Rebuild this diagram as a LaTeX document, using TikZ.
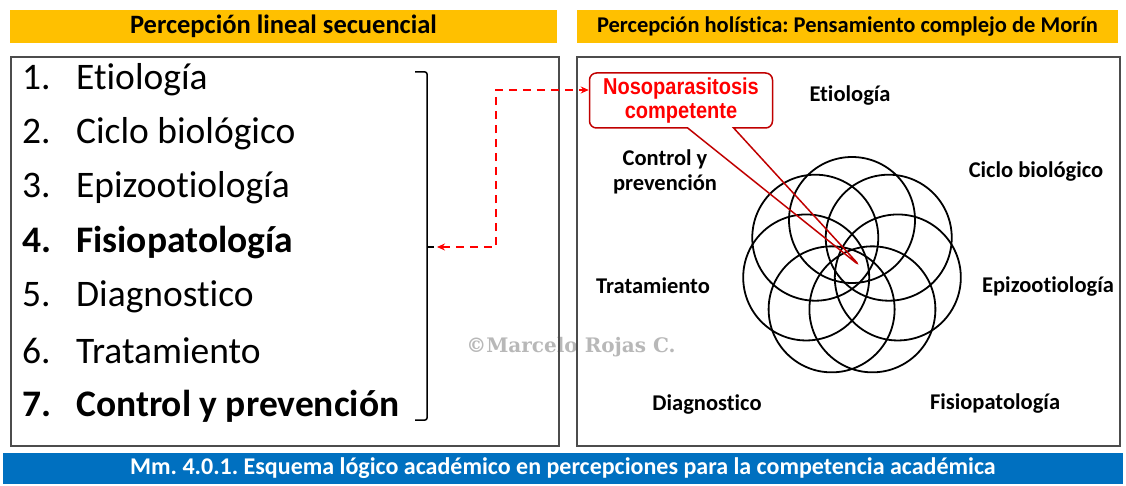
\documentclass[tikz,border=0pt]{standalone}
\usepackage{fontspec}
\setmainfont{Carlito}[Ligatures=NoCommon]
\newfontfamily\narrowfont[FakeStretch=0.87]{Liberation Sans}
\newfontfamily\markfont{DejaVu Serif}
\usepackage{xcolor}
\usepackage{tikz}
\usetikzlibrary{shapes.callouts, arrows.meta, positioning, calc}
\frenchspacing

\definecolor{headyellow}{HTML}{FFC000}
\definecolor{barblue}{HTML}{0070C0}
\definecolor{bubblered}{HTML}{C00000}

\begin{document}
\begin{tikzpicture}[
    x=1pt, y=-1pt,
    header/.style={fill=headyellow, minimum height=33pt, inner sep=0pt},
    frame/.style={draw=black!70, line width=1.3pt, inner sep=0pt},
    item/.style={anchor=west, inner sep=0pt, font=\fontsize{37.5}{40}\selectfont},
    factor/.style={align=center, inner sep=0pt, font=\bfseries\fontsize{22.5}{25}\selectfont},
    petal/.style={line width=1.8pt},
    bubble/.style={rectangle callout, draw=bubblered, line width=1.5pt, rounded corners=7pt, minimum width=183pt, minimum height=55pt, align=center, text=red, font=\narrowfont\bfseries\fontsize{23}{24}\selectfont},
    link/.style={red, line width=1.5pt, dash pattern=on 8pt off 6pt, {Stealth[length=8pt,width=7pt]}-{Stealth[length=8pt,width=7pt]}}
]
\useasboundingbox (0,0) rectangle (1126,486);

% Watermark
\node[font=\markfont\bfseries\fontsize{20}{22}\selectfont, text=black!28] (mark) at (571,347) {©Marcelo Rojas C.};

% Headers and frames
\node[header, minimum width=547pt, font=\bfseries\fontsize{26.5}{28}\selectfont] (lhead) at (283.5,26.5) {Percepción lineal secuencial};
\node[header, minimum width=541pt, font=\bfseries\fontsize{22.5}{24}\selectfont] (rhead) at (847.5,26.5) {Percepción holística: Pensamiento complejo de Morín};
\node[frame, minimum width=548pt, minimum height=389pt] (lbox) at (285,251.5) {};
\node[frame, minimum width=543pt, minimum height=389pt] (rbox) at (848.5,251.5) {};
\node[fill=barblue, minimum width=1120pt, minimum height=31pt, inner sep=0pt, text=white, font=\bfseries\fontsize{24}{26}\selectfont] (caption) at (563,468.5) {Mm. 4.0.1. Esquema lógico académico en percepciones para la competencia académica};

% Sequential list
\node[item] (e1) at (22,80) {\makebox[54pt][l]{1.}Etiología};
\node[item] (e2) at (22,134) {\makebox[54pt][l]{2.}Ciclo biológico};
\node[item] (e3) at (22,188) {\makebox[54pt][l]{3.}Epizootiología};
\node[item, font=\bfseries\fontsize{37.5}{40}\selectfont] (e4) at (22,243) {\makebox[54pt][l]{4.}Fisiopatología};
\node[item] (e5) at (22,297) {\makebox[54pt][l]{5.}Diagnostico};
\node[item] (e6) at (22,351) {\makebox[54pt][l]{6.}Tratamiento};
\node[item, font=\bfseries\fontsize{37.5}{40}\selectfont] (e7) at (22,406) {\makebox[54pt][l]{7.}Control y prevención};

% Bracket
\draw[line width=1.5pt, rounded corners=2pt] (415,72) -- (427,72) -- (427,420) -- (415,420);
\draw[line width=1.5pt] (427,247) -- (434,247);
\coordinate (brk) at (437,247);

% Holistic factors
\node[factor] (etio) at (850,96) {Etiología};
\node[factor] (ciclo) at (1036,172) {Ciclo biológico};
\node[factor] (epiz) at (1048,287) {Epizootiología};
\node[factor] (fisio) at (995,404) {Fisiopatología};
\node[factor] (diag) at (707,405) {Diagnostico};
\node[factor] (trat) at (653,286) {Tratamiento};
\node[factor] (ctrl) at (665,172) {Control y\\prevención};

% Flower of circles
\coordinate (flower) at (852,267);
\foreach \k in {0,...,6}
    \draw[petal] (flower) ++(-90+\k*360/7:47) circle (63pt);

% Callout
\coordinate (tip) at (860,266);
\node[bubble, callout absolute pointer={(tip)}, callout pointer width=46pt] (noso) at (681,100.5) {Nosoparasitosis\\competente};

% Link
\coordinate (turn) at (496,247);
\draw[link] (brk) -- (turn) |- ([yshift=10.5pt]noso.west);

\end{tikzpicture}
\end{document}
